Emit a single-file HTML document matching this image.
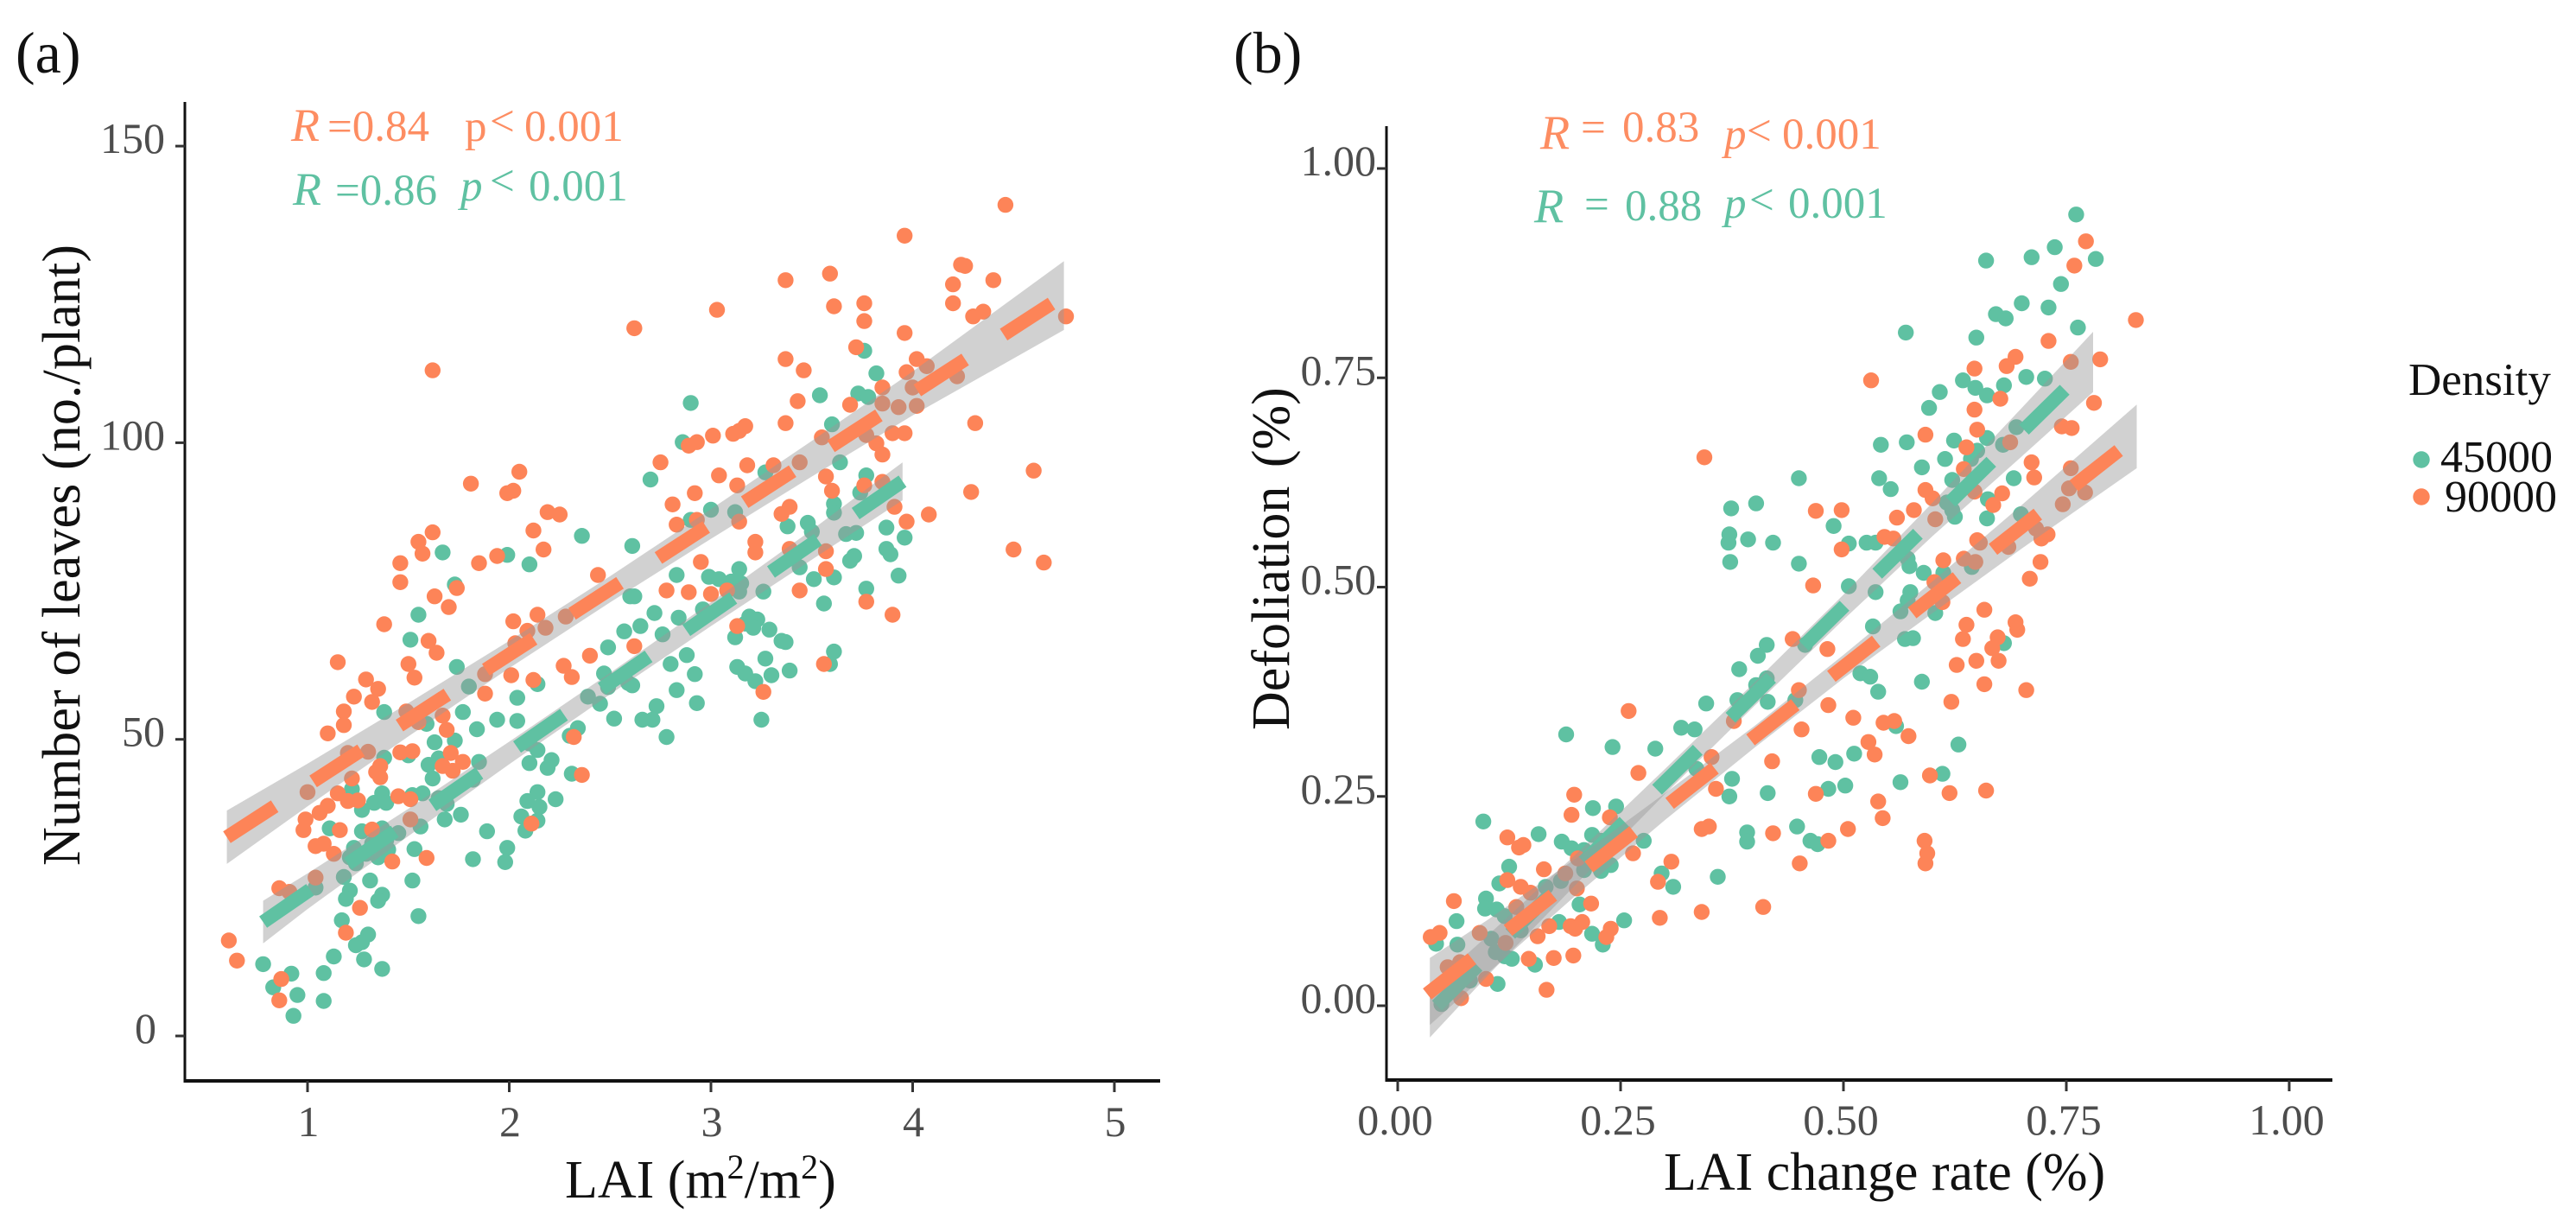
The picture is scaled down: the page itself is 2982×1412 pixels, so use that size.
<!DOCTYPE html>
<html lang="en">
<head>
<meta charset="utf-8">
<title>Leaves and defoliation versus LAI</title>
<style>
html,body{margin:0;padding:0;background:#fff;}
svg{display:block;font-family:"Liberation Serif",serif;}
</style>
</head>
<body>
<svg id="figure" xmlns="http://www.w3.org/2000/svg" width="2982" height="1412" viewBox="0 0 2982 1412">
  <rect x="0" y="0" width="2982" height="1412" fill="#ffffff"/>
  <g id="panel-a"></g>
  <g id="panel-b"></g>

  <text x="18" y="84" font-size="68" fill="#111">(a)</text>
  <text x="1428" y="84" font-size="68" fill="#111">(b)</text>

  <text x="654" y="1386" font-size="62" fill="#111">LAI (m<tspan font-size="40" dy="-22">2</tspan><tspan dy="22">/m</tspan><tspan font-size="40" dy="-22">2</tspan><tspan dy="22">)</tspan></text>
  <text x="1926" y="1377" font-size="62" fill="#111">LAI change rate (%)</text>
  <text transform="translate(92,1002) rotate(-90)" font-size="62" fill="#111" textLength="719">Number of leaves (no./plant)</text>
  <text transform="translate(1492,845) rotate(-90)" font-size="62" fill="#111">Defoliation <tspan dx="6">(%)</tspan></text>

  <g fill="#fd8d62" font-size="51">
    <text x="337" y="163" font-style="italic" font-size="54">R</text>
    <text x="379" y="163">=0.84</text>
    <text x="538" y="163">p</text>
    <text x="567" y="157">&lt;</text>
    <text x="607" y="163">0.001</text>
  </g>
  <g fill="#5fc1a2" font-size="51">
    <text x="339" y="237" font-style="italic" font-size="54">R</text>
    <text x="388" y="237">=0.86</text>
    <text x="533" y="232" font-style="italic">p</text>
    <text x="567" y="226">&lt;</text>
    <text x="612" y="232">0.001</text>
  </g>
  <g fill="#fd8d62" font-size="51">
    <text x="1783" y="172" font-style="italic" font-size="56">R</text>
    <text x="1830" y="164">=</text>
    <text x="1878" y="164">0.83</text>
    <text x="1996" y="172" font-style="italic">p</text>
    <text x="2022" y="168">&lt;</text>
    <text x="2063" y="172">0.001</text>
  </g>
  <g fill="#5fc1a2" font-size="51">
    <text x="1776" y="257" font-style="italic" font-size="56">R</text>
    <text x="1834" y="253">=</text>
    <text x="1881" y="255">0.88</text>
    <text x="1996" y="252" font-style="italic">p</text>
    <text x="2025" y="248">&lt;</text>
    <text x="2070" y="252">0.001</text>
  </g>

  <g>
    <text x="2788" y="457" font-size="53" fill="#111">Density</text>
    <circle cx="2803" cy="532" r="9.7" fill="#5fc1a2"/>
    <text x="2825" y="546" font-size="52" fill="#111">45000</text>
    <circle cx="2803" cy="575" r="9.7" fill="#fd8458"/>
    <text x="2830" y="592" font-size="52" fill="#111">90000</text>
  </g>
</svg>
<script>
// ----- Panel (a): tick labels -----
const aTicksX = [1, 2, 3, 4, 5];
const aTicksY = [0, 50, 100, 150];
// ----- Panel (b): tick labels -----
const bTicksX = ['0.00', '0.25', '0.50', '0.75', '1.00'];
const bTicksY = ['0.00', '0.25', '0.50', '0.75', '1.00'];

// ----- Panel (a) density 90000 scatter -----
const aOrangeX = [1.46,1.46,1.63,1.74,1.70,1.85,2.44,1.38,1.60,1.64,2.02,2.14,2.09,2.18,2.28,2.03,1.15,1.50,1.53,1.88,
1.29,1.35,1.23,1.32,1.88,2.01,2.12,2.27,2.31,2.40,1.18,1.18,1.10,1.49,1.67,1.55,1.69,2.32,1.20,1.30,
1.46,1.52,1.71,1.77,1.67,1.72,1.36,1.34,1.36,2.36,1.22,1.00,1.15,1.20,1.25,1.45,1.51,1.51,1.10,1.06,
0.99,0.98,1.16,1.32,1.08,1.04,1.13,1.42,1.59,1.04,0.86,0.91,1.26,1.19,0.61,0.65,0.87,0.86,2.11,
3.55,3.77,3.82,3.85,3.90,3.96,2.75,3.04,3.18,3.31,3.44,3.13,2.92,2.81,2.83,2.93,3.14,3.57,3.60,3.39,
3.35,3.76,3.85,3.91,3.97,4.08,4.29,3.22,3.22,3.57,3.39,2.95,3.57,2.78,2.89,3.00,3.08,3.44,3.77,3.90,
3.13,3.26,3.56,2.62,
4.46,3.96,4.24,4.26,4.20,4.40,3.37,3.59,3.61,3.76,3.76,3.03,2.62,4.20,4.30,4.35,4.76,3.96,3.72,3.37,
3.46,4.02,3.97,1.62,4.07,3.85,4.00,4.22,3.43,3.69,3.85,3.93,4.02,3.37,4.31,3.17,3.14,3.11,3.01,2.93,
2.89,4.60,2.05,1.81,2.02,1.99,2.19,2.25,2.12,1.62,1.55,1.57,2.17,1.94,4.50,4.65];
const aOrangeY = [76.5,79.7,74.1,75.5,72.3,79.7,77.7,69.4,66.6,64.6,69.9,71.0,68.3,68.8,70.7,66.2,63.0,62.7,60.4,61.0,
60.1,58.5,57.2,56.3,57.7,60.8,60.0,62.4,60.5,64.1,54.7,52.4,51.0,54.7,54.0,52.9,51.6,50.4,47.7,47.9,
47.8,48.0,47.7,46.2,45.5,44.7,45.5,44.5,43.6,44.0,43.4,41.1,40.9,39.6,39.7,40.4,39.9,36.5,38.8,37.6,
36.5,34.7,34.7,34.8,32.4,32.0,30.7,29.4,30.0,26.7,24.9,24.3,21.6,17.4,16.1,12.7,9.6,6.0,35.8,
100.9,101.3,99.9,98.0,101.6,101.6,96.7,94.5,96.2,96.2,96.7,92.8,91.5,89.6,86.2,87.0,86.7,94.3,91.9,89.2,
88.0,92.8,93.4,89.2,86.7,87.9,91.7,83.3,81.5,81.7,82.1,79.9,78.7,75.1,74.8,74.5,75.1,75.1,73.2,71.0,
69.1,58.0,62.7,65.7,
140.1,134.9,130.0,129.8,126.7,127.4,127.4,128.5,123.0,123.5,120.5,122.4,119.3,123.5,121.3,122.1,121.3,118.5,116.1,114.1,
112.2,114.1,111.9,112.2,112.9,109.3,109.3,111.2,107.0,106.4,106.6,106.0,106.2,103.3,103.3,102.8,102.0,101.5,101.2,100.1,
99.5,95.3,95.1,93.1,91.9,91.5,88.3,87.9,85.2,84.9,83.3,81.3,82.0,80.9,82.0,79.8];

// ----- Panel (a) density 45000 scatter -----
const aGreenX = [2.10,1.73,1.55,1.51,1.74,1.80,1.38,1.77,1.94,1.84,2.04,2.04,1.59,1.63,1.73,1.38,1.50,1.60,1.65,1.85,
2.10,2.14,2.10,2.21,2.19,2.34,2.30,2.31,2.14,2.47,2.49,2.57,2.45,2.52,2.39,2.49,2.60,2.59,1.62,1.57,
1.52,1.65,1.69,1.82,1.37,1.33,1.39,1.27,1.22,1.68,1.76,1.56,1.11,2.09,2.14,2.23,2.15,2.06,2.14,2.08,
1.89,1.99,1.98,1.82,1.27,1.37,1.45,1.23,1.32,1.39,1.21,1.29,1.35,1.24,1.40,1.53,1.52,1.31,1.18,1.21,
1.19,1.37,1.35,1.55,1.17,1.04,1.30,1.27,1.24,1.13,1.28,1.37,1.08,0.78,0.92,0.83,0.95,1.08,0.93,
2.86,3.64,3.77,3.74,2.70,3.27,3.00,3.12,3.61,3.61,3.38,3.48,3.50,2.90,3.87,3.96,3.67,3.72,3.87,3.89,
3.71,3.69,3.93,2.36,2.61,2.83,2.99,3.04,3.14,3.10,3.15,3.14,2.62,3.26,3.44,3.51,3.61,3.77,3.56,2.72,
2.84,2.96,2.65,2.76,3.19,3.23,3.17,3.21,3.29,3.12,3.35,3.37,2.88,2.80,2.92,3.27,3.13,3.17,3.22,3.30,
3.39,3.61,3.59,2.61,2.83,2.93,2.73,2.71,2.66,2.78,3.25,
3.76,3.82,3.54,3.73,3.78,2.90,3.60,1.99,1.67];
const aGreenY = [79.5,76.1,71.0,66.8,62.2,58.9,54.6,54.6,53.3,51.7,57.0,53.1,52.6,49.5,49.8,46.9,47.3,45.7,46.8,46.2,
49.3,48.2,46.0,46.5,45.2,51.9,50.6,44.2,59.3,61.1,65.5,68.2,56.0,53.5,57.2,58.8,74.1,59.5,43.4,40.9,
40.6,40.1,39.1,43.2,40.9,39.3,39.3,38.1,41.6,36.5,37.3,35.3,35.0,39.6,41.1,39.9,38.6,37.0,36.3,34.6,
34.5,31.7,29.3,29.8,34.5,35.0,34.2,31.7,32.4,33.0,30.1,30.7,30.1,29.1,31.4,31.5,26.2,26.2,26.8,24.5,
23.1,23.8,22.8,20.2,19.5,25.0,17.1,15.8,15.3,13.4,12.9,11.3,10.6,12.1,10.5,8.2,6.9,5.9,3.4,
100.1,96.7,94.5,91.6,93.8,95.0,88.7,88.3,89.7,88.2,85.9,86.5,85.0,87.0,85.7,84.0,84.6,84.8,82.1,81.2,
80.9,80.1,77.6,84.3,82.6,77.7,77.4,77.0,78.7,76.6,76.3,74.9,74.1,74.9,79.0,77.0,77.3,75.4,72.9,71.3,
70.5,71.9,69.1,67.7,70.7,70.2,69.5,68.8,68.5,67.2,66.6,66.4,64.2,62.7,61.0,63.6,62.2,61.1,59.8,60.8,
61.6,64.8,62.7,59.1,58.3,56.1,55.6,53.3,53.3,50.4,53.3,
115.5,111.7,108.0,108.3,107.7,106.7,103.1,81.1,81.5];

// ----- Panel (a) fitted lines and confidence bands -----
const aGreenLineX = [0.78, 3.95];
const aGreenLineY = [19.2, 93.5];
const aGreenBandX = [0.78, 1, 1.5, 2, 2.5, 3, 3.5, 3.95];
const aGreenBandUpper = [22.8, 27.4, 38.3, 49.6, 61.2, 73.1, 85.3, 96.7];
const aGreenBandLower = [15.6, 21.4, 33.7, 45.8, 57.6, 69.1, 80.3, 90.3];
const aOrangeLineX = [0.6, 4.75];
const aOrangeLineY = [33.5, 124.8];
const aOrangeBandX = [0.6, 1, 1.5, 2, 2.5, 3, 3.5, 4, 4.75];
const aOrangeBandUpper = [38, 45.9, 56.1, 66.6, 77.5, 88.8, 100.3, 112, 130.6];
const aOrangeBandLower = [29, 38.7, 50.5, 62, 73.1, 83.8, 94.3, 104.6, 119];

// ----- Panel (b) density 90000 scatter -----
const bOrangeX = [.772,.759,.828,.730,.693,.683,.647,.531,.788,.755,.781,.676,.647,.745,.756,.650,.592,.687,.638,.711,
.714,.635,.755,.753,.771,.746,.592,.600,.647,.678,.668,.579,.560,.603,.546,.556,.650,.653,.716,.729,
.722,.685,
.469,.498,.498,.443,.466,.482,.450,.483,.511,.545,.557,.573,.453,.528,.535,.420,.597,.469,.619,.660,
.539,.544,.505,.421,.483,.591,.594,.592,.451,.621,.658,.705,.627,.649,.674,.658,.638,.634,.673,.667,
.693,.695,.709,.721,.612,.635,.648,.602,.611,.344,
.259,.270,.198,.195,.123,.141,.136,.352,.357,.377,.349,.341,.307,.292,.294,.341,.410,.264,.238,.164,
.188,.201,.202,.123,.138,.149,.133,.063,.217,.207,.194,.199,.170,.157,.239,.234,.047,.037,.092,.121,
.147,.175,.197,.056,.070,.099,.071,.167];
const bOrangeY = [.913,.884,.819,.794,.775,.764,.761,.747,.772,.769,.720,.725,.712,.692,.690,.688,.682,.673,.667,.649,
.631,.641,.642,.618,.613,.599,.616,.606,.614,.612,.598,.592,.583,.581,.560,.558,.556,.553,.570,.563,
.558,.548,
.591,.592,.545,.438,.502,.426,.377,.359,.344,.338,.340,.322,.330,.315,.300,.292,.275,.253,.254,.257,
.244,.224,.211,.206,.197,.197,.182,.170,.170,.363,.384,.377,.407,.412,.412,.473,.455,.438,.440,.427,
.458,.449,.510,.530,.532,.534,.530,.506,.482,.655,
.352,.278,.252,.228,.201,.192,.189,.297,.259,.340,.214,.211,.172,.148,.105,.112,.118,.182,.225,.163,
.158,.140,.176,.150,.142,.135,.118,.125,.122,.100,.095,.092,.095,.083,.092,.082,.087,.082,.087,.075,
.056,.057,.060,.046,.052,.032,.009,.019];

// ----- Panel (b) density 45000 scatter -----
const bGreenX = [.761,.737,.711,.660,.783,.744,.700,.730,.671,.682,.763,.570,.649,.705,.726,.634,.608,.648,.661,.680,
.596,.542,.571,.624,.661,.679,.694,.614,.588,.650,.643,.540,.553,.691,.622,.662,.661,.616,.622,.625,
.526,.699,
.450,.402,.374,.489,.393,.421,.372,.371,.373,.450,.506,.536,.572,.574,.590,.612,.506,.536,.575,.572,
.564,.603,.533,.569,.578,.644,.414,.404,.457,.383,.414,.402,.381,.415,.446,.519,.530,.539,.588,.680,
.559,.512,.491,.473,.629,.611,.564,.502,.483,.415,.375,.372,.448,.392,.392,.463,.471,
.189,.096,.158,.241,.289,.318,.333,.346,.335,.219,.245,.184,.195,.218,.228,.209,.276,.296,.309,.359,
.254,.125,.114,.099,.098,.111,.066,.067,.043,.204,.181,.218,.230,.154,.112,.081,.049,.105,.110,.128,
.120,.209,.239,.228,.183,.166,.120,.138];
const bGreenY = [.945,.906,.894,.890,.892,.862,.839,.834,.826,.821,.810,.804,.798,.751,.749,.747,.733,.738,.729,.741,
.714,.670,.673,.675,.678,.670,.691,.653,.643,.663,.653,.630,.617,.630,.628,.605,.582,.601,.592,.584,
.553,.587,
.630,.600,.594,.573,.557,.553,.563,.553,.530,.528,.552,.553,.534,.525,.517,.517,.501,.494,.494,.484,
.471,.469,.453,.438,.439,.524,.431,.418,.431,.402,.391,.383,.365,.363,.365,.397,.393,.375,.387,.433,
.334,.301,.291,.297,.312,.277,.267,.263,.259,.254,.271,.250,.214,.207,.196,.197,.193,
.324,.220,.205,.309,.307,.332,.330,.361,.283,.236,.238,.196,.188,.204,.197,.186,.197,.158,.142,.154,
.102,.166,.146,.128,.116,.115,.101,.073,.074,.121,.100,.086,.073,.049,.026,.030,.002,.080,.064,.056,
.059,.162,.168,.161,.149,.142,.107,.090];

// ----- Panel (b) fitted lines and confidence bands -----
const bGreenLineX = [0.044, 0.78];
const bGreenLineY = [0.0, 0.769];
const bGreenBandX = [.036, .1, .2, .3, .4, .5, .6, .7, .78];
const bGreenBandUpper = [.022, .083, .181, .283, .386, .491, .601, .714, .805];
const bGreenBandLower = [-.038, .035, .145, .253, .358, .461, .561, .656, .733];
const bOrangeLineX = [0.033, 0.829];
const bOrangeLineY = [0.014, 0.68];
const bOrangeBandX = [.036, .1, .2, .3, .4, .5, .6, .7, .829];
const bOrangeBandUpper = [.057, .102, .176, .254, .334, .419, .507, .598, .718];
const bOrangeBandLower = [-.023, .038, .132, .222, .308, .391, .469, .546, .642];

const SVGNS = 'http://www.w3.org/2000/svg';
const GREEN = '#5fc1a2';
const ORANGE = '#fd8458';

// Axis functions
const aXScale = v => 356 + 233.5 * (v - 1);
const aYScale = v => 1199 - 6.866 * v;
const bXScale = v => 1618 + 1032 * v;
const bYScale = v => 1164 - 969 * v;

function make(tag, attrs, parent) {
  const el = document.createElementNS(SVGNS, tag);
  for (const k in attrs) el.setAttribute(k, attrs[k]);
  parent.appendChild(el);
  return el;
}

function drawPoints(parent, xs, ys, xScale, yScale, color, name) {
  const n = Math.min(xs.length, ys.length);
  for (let i = 0; i < n; i++) {
    const c = make('circle', {cx: xScale(xs[i]).toFixed(1), cy: yScale(ys[i]).toFixed(1), r: 9.2, fill: color}, parent);
    
    
  }
}

function drawBand(parent, xs, upper, lower, xScale, yScale, name) {
  const top = xs.map((x, i) => xScale(x).toFixed(1) + ',' + yScale(upper[i]).toFixed(1));
  const bottom = xs.map((x, i) => xScale(x).toFixed(1) + ',' + yScale(lower[i]).toFixed(1)).reverse();
  const p = make('polygon', {points: top.concat(bottom).join(' '), fill: '#999999', 'fill-opacity': 0.45}, parent);
  
  
}

function drawLine(parent, xs, ys, xScale, yScale, color, name) {
  const pts = xs.map((x, i) => xScale(x).toFixed(1) + ',' + yScale(ys[i]).toFixed(1)).join(' ');
  const l = make('polyline', {points: pts, fill: 'none', stroke: color, 'stroke-width': 16, 'stroke-dasharray': '66 53'}, parent);
  
  
}

function drawAxes(parent, cfg) {
  const yLine = make('line', {x1: cfg.left, y1: cfg.top, x2: cfg.left, y2: cfg.bottom + 2, stroke: '#111', 'stroke-width': 3}, parent);
  
  
  const xLine = make('line', {x1: cfg.left, y1: cfg.bottom, x2: cfg.right, y2: cfg.bottom, stroke: '#111', 'stroke-width': 4}, parent);
  
  

  cfg.ticksX.forEach(t => {
    const px = cfg.xScale(+t);
    const tick = make('line', {x1: px, y1: cfg.bottom, x2: px, y2: cfg.bottom + 13, stroke: '#333', 'stroke-width': 3}, parent);
    
    
    const label = make('text', {x: px + cfg.xLabelDx, y: cfg.xLabelY, 'font-size': 50, fill: '#4d4d4d', 'text-anchor': 'middle'}, parent);
    
    
    label.textContent = t;
  });
  cfg.ticksY.forEach(t => {
    const py = cfg.yScale(+t);
    const tick = make('line', {x1: cfg.left - 11, y1: py, x2: cfg.left, y2: py, stroke: '#333', 'stroke-width': 3}, parent);
    
    
    const shift = (+t === 0 && cfg.name === 'panel-a') ? -10 : 0;
    const label = make('text', {x: cfg.yLabelX + shift, y: py + 8, 'font-size': 50, fill: '#4d4d4d', 'text-anchor': 'end'}, parent);
    
    
    label.textContent = t;
  });
}

const panelA = document.getElementById('panel-a');
drawPoints(panelA, aGreenX, aGreenY, aXScale, aYScale, GREEN, 'point-a-45000');
drawPoints(panelA, aOrangeX, aOrangeY, aXScale, aYScale, ORANGE, 'point-a-90000');
drawBand(panelA, aGreenBandX, aGreenBandUpper, aGreenBandLower, aXScale, aYScale, 'band-a-45000');
drawLine(panelA, aGreenLineX, aGreenLineY, aXScale, aYScale, GREEN, 'fit-line-a-45000');
drawBand(panelA, aOrangeBandX, aOrangeBandUpper, aOrangeBandLower, aXScale, aYScale, 'band-a-90000');
drawLine(panelA, aOrangeLineX, aOrangeLineY, aXScale, aYScale, ORANGE, 'fit-line-a-90000');
drawAxes(panelA, {name: 'panel-a', left: 214, top: 118, bottom: 1251, right: 1343, xScale: aXScale, yScale: aYScale,
  ticksX: aTicksX, ticksY: aTicksY, xLabelDx: 1, xLabelY: 1315, yLabelX: 191});

const panelB = document.getElementById('panel-b');
drawPoints(panelB, bGreenX, bGreenY, bXScale, bYScale, GREEN, 'point-b-45000');
drawPoints(panelB, bOrangeX, bOrangeY, bXScale, bYScale, ORANGE, 'point-b-90000');
drawBand(panelB, bGreenBandX, bGreenBandUpper, bGreenBandLower, bXScale, bYScale, 'band-b-45000');
drawLine(panelB, bGreenLineX, bGreenLineY, bXScale, bYScale, GREEN, 'fit-line-b-45000');
drawBand(panelB, bOrangeBandX, bOrangeBandUpper, bOrangeBandLower, bXScale, bYScale, 'band-b-90000');
drawLine(panelB, bOrangeLineX, bOrangeLineY, bXScale, bYScale, ORANGE, 'fit-line-b-90000');
drawAxes(panelB, {name: 'panel-b', left: 1605, top: 146, bottom: 1250, right: 2700, xScale: bXScale, yScale: bYScale,
  ticksX: bTicksX, ticksY: bTicksY, xLabelDx: -3, xLabelY: 1313, yLabelX: 1593});
</script>
</body>
</html>
